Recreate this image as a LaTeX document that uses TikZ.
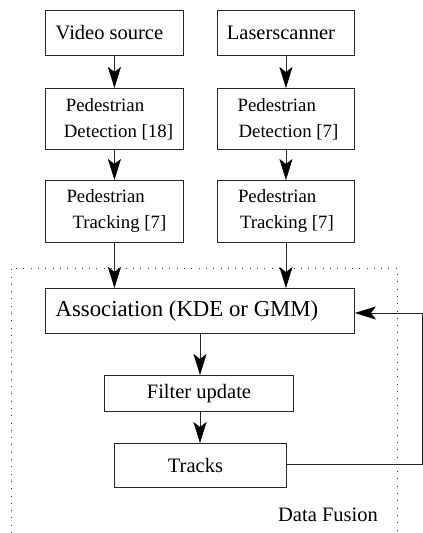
\documentclass[tikz,border=0pt]{standalone}
\usepackage{fontspec}
\setmainfont{Liberation Serif}
\usetikzlibrary{arrows.meta}
\begin{document}
\begin{tikzpicture}[x=1pt,y=-1pt,
  box/.style={draw=black!85,line width=0.9pt,inner sep=0pt,anchor=north west},
  conn/.style={draw=black!85,line width=0.9pt,-{Stealth[length=21pt,width=13pt,inset=5pt,color=black,line width=0.5pt]}},
  fusion/.style={draw=black!80,line width=0.9pt,dash pattern=on 1pt off 6.3pt},
  big/.style={font=\fontsize{20.5}{24}\selectfont},
  two/.style={font=\fontsize{18.8}{26}\selectfont,align=left},
  huge/.style={font=\fontsize{22.8}{26}\selectfont}]
\useasboundingbox (0,0) rectangle (423,533);
% boxes
\node[box,big,minimum width=138pt,minimum height=45pt] (vid) at (45,10) {Video source\hspace*{10pt}};
\node[box,big,minimum width=137pt,minimum height=45pt] (las) at (217,10) {Laserscanner\hspace*{10pt}};
\node[box,two,minimum width=138pt,minimum height=61pt] (vdet) at (45,88) {\hspace*{10pt}Pedestrian\\\hspace*{8pt}Detection [18]};
\node[box,two,minimum width=137pt,minimum height=61pt] (ldet) at (217,88) {\hspace*{4pt}Pedestrian\\\hspace*{5pt}Detection [7]};
\node[box,two,minimum width=138pt,minimum height=62pt] (vtrk) at (45,180) {\hspace*{4pt}Pedestrian\\\hspace*{10pt}Tracking [7]};
\node[box,two,minimum width=137pt,minimum height=62pt] (ltrk) at (217,180) {Pedestrian\\\hspace*{2pt}Tracking [7]};
\node[box,huge,minimum width=309pt,minimum height=45pt] (assoc) at (45,288) {Association (KDE or GMM)\hspace*{26pt}};
\node[box,big,minimum width=189pt,minimum height=36pt] (filt) at (104,375) {Filter update};
\node[box,big,minimum width=172pt,minimum height=44pt] (trk) at (114,443) {Tracks\hspace*{10pt}};
\node[big] (df) at (328,515) {Data Fusion};
% dotted fusion frame (bottom beyond picture)
\coordinate (fbl) at (11,533);
\coordinate (ftl) at (11,268);
\coordinate (ftr) at (397,268);
\coordinate (fbr) at (397,533);
\draw[fusion] (fbl) -- (ftl) -- (ftr) -- (fbr);
% connectors
\draw[conn] (vid.south) -- (vdet.north);
\draw[conn] (las.south) -- (ldet.north);
\draw[conn] (vdet.south) -- (vtrk.north);
\draw[conn] (ldet.south) -- (ltrk.north);
\draw[conn] (vtrk.south) -- (vtrk.south |- assoc.north);
\draw[conn] (ltrk.south) -- (ltrk.south |- assoc.north);
\coordinate (ax) at (200,333);
\draw[conn] (ax) -- (ax |- filt.north);
\coordinate (fx) at (200,411);
\draw[conn] (fx) -- (fx |- trk.north);
\coordinate (r1) at (422.5,464);
\coordinate (r2) at (422.5,313);
\draw[conn] (trk.east |- r1) -- (r1) -- (r2) -- (r2 -| assoc.east);
\end{tikzpicture}
\end{document}
